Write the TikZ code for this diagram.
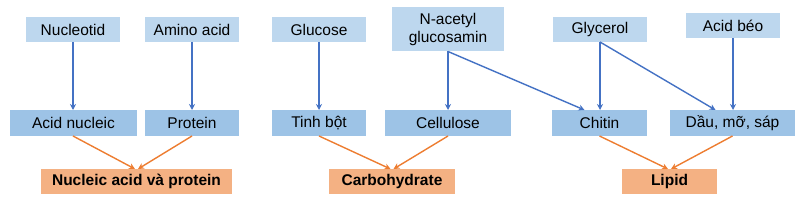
\documentclass[tikz,border=0pt]{standalone}
\usepackage{fontspec}
\setmainfont{Liberation Sans}
\usetikzlibrary{arrows.meta,calc}
\definecolor{topblue}{HTML}{BDD7EE}
\definecolor{midblue}{HTML}{9DC3E6}
\definecolor{botorange}{HTML}{F4B183}
\definecolor{arrblue}{HTML}{4472C4}
\definecolor{arrorange}{HTML}{ED7D31}
\tikzset{
  box/.style={inner sep=0pt, outer sep=0pt, minimum height=25pt, text=black,
    font=\fontsize{15.5}{18}\selectfont, align=center},
  topbox/.style={box, fill=topblue},
  midbox/.style={box, fill=midblue, minimum height=26pt},
  botbox/.style={box, fill=botorange, font=\fontsize{15.5}{18}\selectfont\bfseries},
  barrow/.style={draw=arrblue, line width=1.4pt, -{Stealth[length=6pt,width=6pt]}},
  oarrow/.style={draw=arrorange, line width=1.4pt, -{Stealth[length=6pt,width=6pt]}},
}
\begin{document}
\begin{tikzpicture}[x=1pt,y=-1pt]
\useasboundingbox (0,0) rectangle (808,208);
% top
\node[topbox, minimum width=94pt] (nuc) at (73,29.5) {Nucleotid};
\node[topbox, minimum width=94pt] (ami) at (192,29.5) {Amino acid};
\node[topbox, minimum width=94pt] (glu) at (319,29.5) {Glucose};
\node[topbox, minimum width=112pt, minimum height=44pt] (nac) at (448,29.5) {N-acetyl\\glucosamin};
\node[topbox, minimum width=94pt] (gly) at (600,29.5) {Glycerol};
\node[topbox, minimum width=94pt] (aci) at (733,25.5) {Acid béo};
% middle
\node[midbox, minimum width=127pt] (an) at (73.5,123) {Acid nucleic};
\node[midbox, minimum width=94pt] (pro) at (192,123) {Protein};
\node[midbox, minimum width=94pt] (tb) at (319,123) {Tinh bột};
\node[midbox, minimum width=126pt] (cel) at (448,123) {Cellulose};
\node[midbox, minimum width=95pt] (chi) at (599.5,123) {Chitin};
\node[midbox, minimum width=125pt] (dau) at (732.5,123) {Dầu, mỡ, sáp};
% bottom
\node[botbox, minimum width=191pt] (nap) at (136.5,181.5) {Nucleic acid và protein};
\node[botbox, minimum width=126pt] (car) at (392,181.5) {Carbohydrate};
\node[botbox, minimum width=95pt] (lip) at (669.5,181.5) {Lipid};
% blue arrows
\draw[barrow] (nuc.south) -- (an.north -| nuc.south);
\draw[barrow] (ami.south) -- (pro.north);
\draw[barrow] (glu.south) -- (tb.north);
\draw[barrow] (nac.south) -- (cel.north);
\draw[barrow] (nac.south) -- ($(chi.north)+(-15,0)$);
\draw[barrow] (gly.south) -- (chi.north -| gly.south);
\draw[barrow] (gly.south) -- ($(dau.north)+(-17,0)$);
\draw[barrow] (aci.south) -- (dau.north -| aci.south);
% orange arrows
\draw[oarrow] (an.south -| nuc.south) -- ($(nap.north)+(-1.5,0)$);
\draw[oarrow] (pro.south) -- ($(nap.north)+(1.5,0)$);
\draw[oarrow] (tb.south) -- ($(car.north)+(-1.5,0)$);
\draw[oarrow] (cel.south) -- ($(car.north)+(1.5,0)$);
\draw[oarrow] (chi.south) -- ($(lip.north)+(-1.5,0)$);
\draw[oarrow] (dau.south) -- ($(lip.north)+(1.5,0)$);
\end{tikzpicture}
\end{document}
